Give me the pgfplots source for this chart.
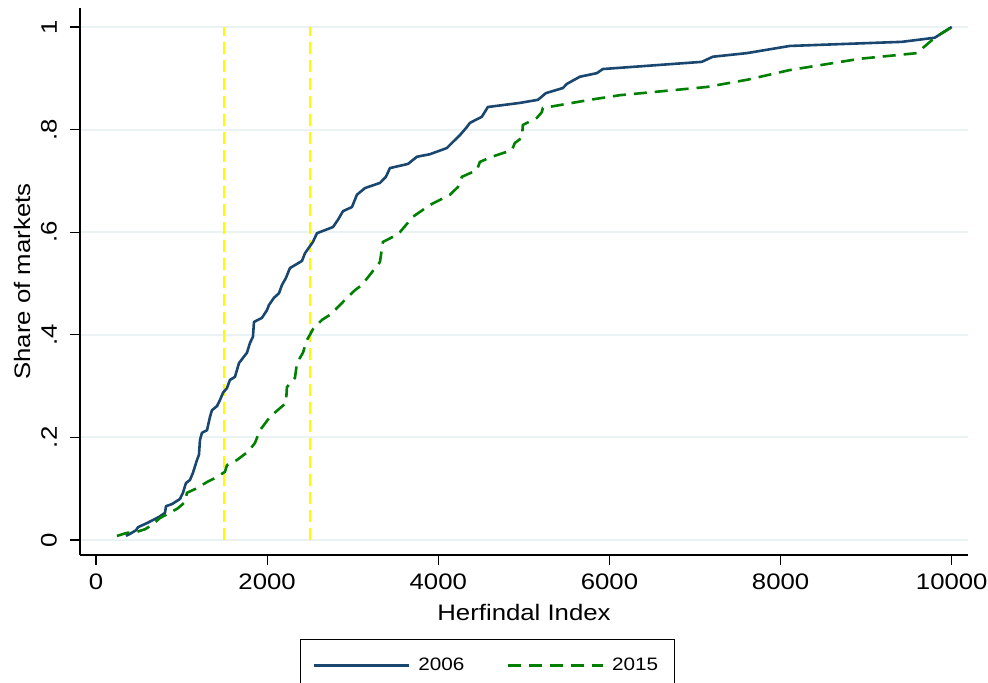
\documentclass[border=0pt]{standalone}
\usepackage{fontspec}
\setmainfont{Liberation Sans}[FakeStretch=1.15]
\usepackage{pgfplots}
\pgfplotsset{compat=1.18}
\definecolor{snavy}{RGB}{26,71,111}
\definecolor{sgreen}{RGB}{0,128,0}
\definecolor{syellow}{RGB}{255,250,0}
\definecolor{sgrid}{RGB}{234,242,243}

\begin{document}
\begin{tikzpicture}
\begin{axis}[
  name=ax, scale only axis, width=444pt, height=273.5pt,
  xmin=-187, xmax=10190, ymin=-0.0292, ymax=1.037,
  axis x line*=bottom, axis y line*=left, axis line style={black, line width=0.6pt, -},
  tick align=outside, major tick length=5pt, tick style={black, line width=0.6pt},
  font=\fontsize{11.2}{13}\selectfont,
  /pgf/number format/assume math mode=true,
  scaled x ticks=false, scaled y ticks=false,
  xtick={0,2000,4000,6000,8000,10000},
  xticklabels={0,2000,4000,6000,8000,10000},
  ytick={0,0.2,0.4,0.6,0.8,1},
  yticklabels={0,.2,.4,.6,.8,1},
  yticklabel style={rotate=90, anchor=south, yshift=3pt},
  xticklabel style={yshift=-1pt},
  ymajorgrids, grid style={sgrid, line width=1pt},
  xlabel={Herfindal Index}, ylabel={Share of markets},
  xlabel style={at={(axis description cs:0.5,0)}, anchor=base, yshift=-32.5pt},
  ylabel style={at={(axis description cs:0,0.5)}, anchor=center, yshift=29pt},
  legend columns=2,
  legend image code/.code={\draw[#1] (0pt,0pt) -- (47.5pt,0pt);},
  legend style={at={(0.4589,0)}, anchor=north, yshift=-42pt, draw=black,
    line width=0.6pt, inner xsep=6pt, inner ysep=7pt, sharp corners,
    font=\fontsize{9}{11}\selectfont,
    /tikz/every even column/.append style={column sep=19pt},
    /tikz/every odd column/.append style={column sep=2pt}},
]
\addplot[syellow, line width=1.1pt, dash pattern=on 6pt off 3pt, forget plot]
  coordinates {(1500,0) (1500,1)};
\addplot[syellow, line width=1.1pt, dash pattern=on 6pt off 3pt, forget plot]
  coordinates {(2500,0) (2500,1)};
\addplot[snavy, line width=1.3pt, line join=round] coordinates {
  (350,0.008) (397,0.012) (467,0.019) (491,0.025) (596,0.033) (666,0.039)
  (736,0.045) (806,0.053) (818,0.066) (888,0.070) (981,0.080) (1016,0.092)
  (1051,0.111) (1098,0.117) (1133,0.131) (1180,0.156) (1203,0.166) (1215,0.195)
  (1238,0.209) (1297,0.214) (1332,0.240) (1355,0.253) (1414,0.261) (1449,0.273)
  (1484,0.287) (1530,0.296) (1565,0.312) (1624,0.318) (1671,0.345) (1764,0.365)
  (1799,0.384) (1834,0.396) (1846,0.425) (1939,0.433) (1998,0.448) (2021,0.458)
  (2079,0.472) (2138,0.481) (2173,0.497) (2220,0.511) (2266,0.530) (2407,0.544)
  (2442,0.559) (2535,0.581) (2582,0.598) (2769,0.610) (2827,0.624) (2886,0.641)
  (2991,0.649) (3049,0.673) (3143,0.686) (3318,0.696) (3388,0.708) (3435,0.725)
  (3645,0.733) (3750,0.747) (3902,0.752) (4100,0.764) (4159,0.774) (4252,0.789)
  (4334,0.805) (4369,0.813) (4509,0.825) (4579,0.844) (4953,0.852) (5164,0.858)
  (5257,0.871) (5456,0.881) (5502,0.889) (5654,0.903) (5853,0.910) (5923,0.918)
  (7079,0.932) (7208,0.942) (7605,0.949) (8107,0.963) (9416,0.971) (9801,0.979)
  (10000,1.000)};
\addlegendentry{2006}
\addplot[sgreen, line width=1.3pt, dash pattern=on 6.5pt off 4pt] coordinates {
  (245,0.008) (362,0.014) (479,0.016) (572,0.021) (654,0.029) (748,0.043)
  (864,0.053) (958,0.062) (1040,0.074) (1063,0.092) (1180,0.101) (1297,0.113)
  (1414,0.123) (1507,0.133) (1530,0.146) (1647,0.156) (1776,0.172) (1857,0.189)
  (1916,0.214) (2033,0.240) (2150,0.257) (2220,0.267) (2231,0.298) (2325,0.316)
  (2348,0.345) (2418,0.365) (2465,0.390) (2500,0.400) (2535,0.411) (2640,0.429)
  (2734,0.439) (2839,0.456) (2909,0.468) (3026,0.487) (3107,0.497) (3201,0.517)
  (3318,0.542) (3353,0.581) (3470,0.591) (3551,0.600) (3703,0.630) (3902,0.653)
  (4136,0.673) (4229,0.688) (4276,0.708) (4451,0.721) (4486,0.737) (4626,0.747)
  (4860,0.760) (4895,0.774) (4977,0.784) (4988,0.809) (5152,0.823) (5210,0.834)
  (5222,0.842) (5771,0.858) (6121,0.867) (7137,0.883) (7605,0.897) (8107,0.916)
  (8925,0.938) (9591,0.949) (9801,0.979) (10000,1.000)};
\addlegendentry{2015}
\end{axis}
\pgfresetboundingbox
\useasboundingbox ([xshift=-40pt,yshift=4pt]ax.north west) rectangle ([xshift=10pt,yshift=-64pt]ax.south east);
\end{tikzpicture}
\end{document}
